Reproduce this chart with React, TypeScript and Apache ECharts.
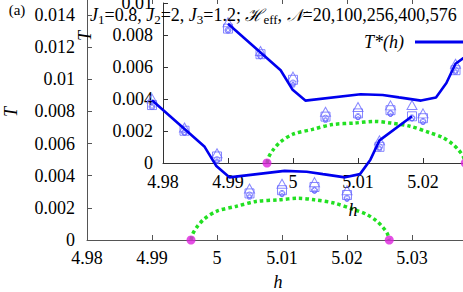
import React, { useEffect, useRef } from "react";
import * as echarts from "echarts";

// T*(h) line
const lineH = [4.99, 4.9981, 4.9999, 5.0019, 5.0104, 5.0138, 5.0163, 5.0197, 5.022, 5.0236, 5.025, 5.03];
const lineT = [0.0087, 0.0058, 0.0046, 0.0039, 0.0043, 0.00425, 0.0041, 0.0039, 0.0041, 0.005, 0.0062, 0.0077];

// green dotted arc
const arcH = [4.996, 4.9963, 4.9969, 4.998, 5.0, 5.003, 5.006, 5.0095, 5.0125, 5.015, 5.018, 5.021, 5.023, 5.0245, 5.0255, 5.0262, 5.0265];
const arcT = [0, 0.0004, 0.0008, 0.0013, 0.0018, 0.0021, 0.0024, 0.0025, 0.0026, 0.0025, 0.0023, 0.0019, 0.0016, 0.0012, 0.0008, 0.0004, 0];
const endH = [4.996, 5.0265];
const endT = [0, 0];

// finite-size markers
const markerH = [4.99, 4.995, 5.0, 5.005, 5.01, 5.015, 5.02, 5.025, 5.03];
const tN20 = [0.0088, 0.007, 0.0054, 0.0032, 0.0035, 0.0036, 0.0031, 0.0062, 0.0084];
const tN100 = [0.0084, 0.0068, 0.0052, 0.0029, 0.0031, 0.0033, 0.0028, 0.0058, 0.0077];
const tN256 = [0.0083, 0.0067, 0.005, 0.0028, 0.0029, 0.0031, 0.0026, 0.0058, 0.0076];
const tN400 = [0.0083, 0.0067, 0.0049, 0.0027, 0.0029, 0.0031, 0.0026, 0.0057, 0.0076];
const tN576 = [0.0083, 0.0066, 0.0049, 0.0027, 0.0028, 0.003, 0.0025, 0.0057, 0.0075];

const SERIF = "Liberation Serif";
const BLUE = "#0000ee";
const MK = "#6a6aff";
const GREEN = "#22e022";
const MAGENTA = "#dd22dd";

const zip = (a: number[], b: number[]) => a.map((v, i) => [v, b[i]]);

function seriesFor(g: number) {
  const xi = g === 0 ? 0 : 2;
  const yi = g === 0 ? 0 : 1;
  const base = { xAxisIndex: xi, yAxisIndex: yi };
  const mk = (sym: string, size: any, data: number[]) => ({
    ...base,
    type: "scatter",
    symbol: sym,
    symbolSize: size,
    data: zip(markerH, data),
    itemStyle: { color: "rgba(0,0,0,0)", borderColor: MK, borderWidth: 1 },
    z: 3,
  });
  return [
    {
      ...base,
      type: "line",
      data: zip(arcH, arcT),
      smooth: 0.3,
      showSymbol: false,
      lineStyle: { color: GREEN, width: 3.5, type: [3.5, 3] },
      z: 2,
    },
    {
      ...base,
      type: "scatter",
      data: zip(endH, endT),
      symbol: "circle",
      symbolSize: 9,
      itemStyle: { color: MAGENTA },
      z: 4,
    },
    mk("triangle", [10, 9], tN20),
    mk("rect", 9, tN100),
    mk("circle", 6, tN256),
    mk("path://M0,-1 L0.95,-0.31 L0.59,0.81 L-0.59,0.81 L-0.95,-0.31 Z", 5, tN400),
    mk("circle", 3, tN576),
    {
      ...base,
      type: "line",
      data: zip(lineH, lineT),
      showSymbol: false,
      lineStyle: { color: BLUE, width: 2.6 },
      z: 5,
    },
  ];
}

const fmtX = (v: number) => String(+v.toFixed(3));
const fmtY = (v: number) => {
  const k = Math.round(v / 0.002);
  if (Math.abs(k * 0.002 - v) > 1e-9) return "";
  return String(+v.toFixed(4));
};

export default function App() {
  const ref = useRef<HTMLDivElement>(null);
  useEffect(() => {
    if (!ref.current) return;
    const chart = echarts.init(ref.current, undefined, { renderer: "svg" });
    const labelStyle = { color: "#000", fontFamily: SERIF, fontSize: 18 };
    const txt = (x: number, y: number, text: string, size: number, italic: boolean, extra: any = {}) => ({
      type: "text", x, y, z: 10, ...extra,
      style: {
        text, fontFamily: SERIF, fontSize: size, fontStyle: italic ? "italic" : "normal",
        fill: "#000", align: "center", verticalAlign: "middle", ...(extra.style || {}),
      },
    });
    const option: any = {
      animation: false,
      backgroundColor: "#fff",
      grid: [
        { left: 87, right: -14, top: -1, bottom: 52, containLabel: false, outerBoundsMode: "none" },
        { left: 163, right: -25, top: 3, bottom: 129, containLabel: false, outerBoundsMode: "none" },
      ],
      xAxis: [
        {
          gridIndex: 0, type: "value", min: 4.98, max: 5.04, interval: 0.01,
          axisLine: { lineStyle: { color: "#555", width: 1 } },
          axisTick: { inside: true, length: 5, lineStyle: { color: "#555" } },
          axisLabel: { ...labelStyle, margin: 9, formatter: fmtX, showMaxLabel: false },
          splitLine: { show: false },
        },
        {
          gridIndex: 0, type: "value", position: "top", min: 4.98, max: 5.04, interval: 0.01,
          axisLine: { lineStyle: { color: "#555", width: 1 } },
          axisTick: { inside: true, length: 5, lineStyle: { color: "#555" } },
          axisLabel: { show: false },
          splitLine: { show: false },
        },
        {
          gridIndex: 1, type: "value", min: 4.98, max: 5.03, interval: 0.01,
          axisLine: { lineStyle: { color: "#333", width: 1 } },
          axisTick: { inside: true, length: 5, lineStyle: { color: "#333" } },
          axisLabel: { ...labelStyle, margin: 10, formatter: fmtX, showMaxLabel: false },
          splitLine: { show: false },
        },
      ],
      yAxis: [
        {
          gridIndex: 0, type: "value", min: 0, max: 0.015, interval: 0.002,
          axisLine: { show: true, lineStyle: { color: "#555", width: 1 } },
          axisTick: { show: true, inside: true, length: 5, lineStyle: { color: "#555" } },
          axisLabel: { ...labelStyle, margin: 12, formatter: fmtY },
          splitLine: { show: false },
        },
        {
          gridIndex: 1, type: "value", min: 0, max: 0.01, interval: 0.002,
          axisLine: { show: true, lineStyle: { color: "#333", width: 1 } },
          axisTick: { show: true, inside: true, length: 5, lineStyle: { color: "#333" } },
          axisLabel: { ...labelStyle, margin: 10, formatter: fmtY },
          splitLine: { show: false },
        },
      ],
      series: [...seriesFor(0), ...seriesFor(1)],
      graphic: [
        txt(17, 10, "(a)", 15, false),
        txt(11, 112, "T", 18, true, { rotation: Math.PI / 2 }),
        txt(85, 36, "T", 18, true, { rotation: Math.PI / 2 }),
        txt(278, 282, "h", 18, true),
        txt(353, 210, "h", 18, true),
        {
          type: "text", x: 90, y: 15, z: 10,
          style: {
            text: "{i|J}{s|1}{n|=0.8, }{i|J}{s|2}{n|=2, }{i|J}{s|3}{n|=1.2; }{c|ℋ}{s|eff}{n|, }{c|𝒩}{n|=20,100,256,400,576}",
            verticalAlign: "middle",
            fill: "#000",
            rich: {
              n: { fontFamily: SERIF, fontSize: 18, lineHeight: 22, fill: "#000" },
              i: { fontFamily: SERIF, fontSize: 18, fontStyle: "italic", lineHeight: 22, fill: "#000" },
              c: { fontFamily: SERIF, fontSize: 17, fontStyle: "italic", lineHeight: 22, fill: "#000" },
              s: { fontFamily: SERIF, fontSize: 13, lineHeight: 22, verticalAlign: "bottom", fill: "#000" },
            },
          },
        },
        txt(404, 42, "T*(h)", 18, true, { style: { align: "right" } }),
        { type: "line", shape: { x1: 415, y1: 42, x2: 463, y2: 42 }, style: { stroke: BLUE, lineWidth: 3 }, z: 10 },
      ],
    };
    chart.setOption(option);
    return () => chart.dispose();
  }, []);
  return <div ref={ref} style={{ width: 463, height: 292, position: "absolute", left: 0, top: 0 }} />;
}
